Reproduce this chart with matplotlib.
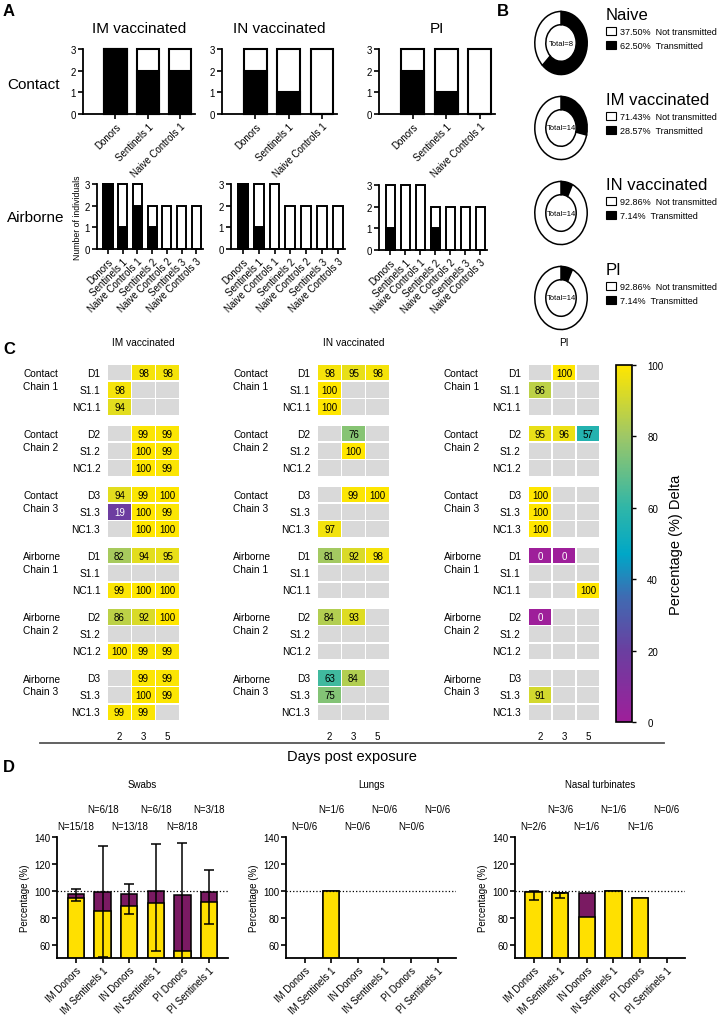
import matplotlib.pyplot as plt
import numpy as np
from matplotlib.colors import LinearSegmentedColormap
from matplotlib.lines import Line2D
from matplotlib.patches import Patch, Rectangle

plt.rcParams['font.family'] = ['Liberation Sans', 'DejaVu Sans']

W, H = 719, 1020

# ---------------- panel A data ----------------
groups_a = ["IM vaccinated", "IN vaccinated", "PI"]
contact_labels = ["Donors", "Sentinels 1", "Naive Controls 1"]
airborne_labels = ["Donors", "Sentinels 1", "Naive Controls 1", "Sentinels 2",
                   "Naive Controls 2", "Sentinels 3", "Naive Controls 3"]
contact_total = [3, 3, 3]
contact_pos = {"IM vaccinated": [3, 2, 2], "IN vaccinated": [2, 1, 0], "PI": [2, 1, 0]}
airborne_total = [3, 3, 3, 2, 2, 2, 2]
airborne_pos = {"IM vaccinated": [3, 1, 2, 1, 0, 0, 0],
                "IN vaccinated": [3, 1, 0, 0, 0, 0, 0],
                "PI": [1, 0, 0, 1, 0, 0, 0]}

# ---------------- panel B data ----------------
donut_groups = ["Naive", "IM vaccinated", "IN vaccinated", "PI"]
donut_total = [8, 14, 14, 14]
donut_transmitted = [5, 4, 1, 1]

# ---------------- panel C data ----------------
n = np.nan
days = ["2", "3", "5"]
chain_labels = ["Contact\nChain 1", "Contact\nChain 2", "Contact\nChain 3",
                "Airborne\nChain 1", "Airborne\nChain 2", "Airborne\nChain 3"]
animal_labels = [["D1", "S1.1", "NC1.1"], ["D2", "S1.2", "NC1.2"], ["D3", "S1.3", "NC1.3"]] * 2
heat_im = [[n, 98, 98], [98, n, n], [94, n, n],
           [n, 99, 99], [n, 100, 99], [n, 100, 99],
           [94, 99, 100], [19, 100, 99], [n, 100, 100],
           [82, 94, 95], [n, n, n], [99, 100, 100],
           [86, 92, 100], [n, n, n], [100, 99, 99],
           [n, 99, 99], [n, 100, 99], [99, 99, n]]
heat_in = [[98, 95, 98], [100, n, n], [100, n, n],
           [n, 76, n], [n, 100, n], [n, n, n],
           [n, 99, 100], [n, n, n], [97, n, n],
           [81, 92, 98], [n, n, n], [n, n, n],
           [84, 93, n], [n, n, n], [n, n, n],
           [63, 84, n], [75, n, n], [n, n, n]]
heat_pi = [[n, 100, n], [86, n, n], [n, n, n],
           [95, 96, 57], [n, n, n], [n, n, n],
           [100, n, n], [100, n, n], [100, n, n],
           [0, 0, n], [n, n, n], [n, n, 100],
           [0, n, n], [n, n, n], [n, n, n],
           [n, n, n], [91, n, n], [n, n, n]]
heat_titles = ["IM vaccinated", "IN vaccinated", "PI"]

# ---------------- panel D data ----------------
d_labels = ["IM Donors", "IM Sentinels 1", "IN Donors", "IN Sentinels 1", "PI Donors", "PI Sentinels 1"]
d_titles = ["Swabs", "Lungs", "Nasal turbinates"]
swab_total = [97.5, 99, 97.5, 99.5, 96.5, 99]
swab_delta = [95, 85, 88.5, 91, 55.5, 91.5]
swab_err_lo = [92.5, 51, 82.5, 55.5, 15, 75]
swab_err_hi = [101, 133.5, 105, 134.5, 135.5, 115.5]
swab_n = ["N=15/18", "N=6/18", "N=13/18", "N=6/18", "N=8/18", "N=3/18"]
lung_total = [n, 100, n, n, n, n]
lung_delta = [n, 100, n, n, n, n]
lung_err_lo = [n, n, n, n, n, n]
lung_err_hi = [n, n, n, n, n, n]
lung_n = ["N=0/6", "N=1/6", "N=0/6", "N=0/6", "N=0/6", "N=0/6"]
nt_total = [99, 98.5, 98.5, 99.5, 94.5, n]
nt_delta = [99, 98.5, 80.5, 99.5, 94.5, n]
nt_err_lo = [93, 94.5, n, n, n, n]
nt_err_hi = [99.5, 98.5, n, n, n, n]
nt_n = ["N=2/6", "N=3/6", "N=1/6", "N=1/6", "N=1/6", "N=0/6"]

fig = plt.figure(figsize=(W / 100, H / 100), dpi=100)


def px_axes(x0, y0, x1, y1):
    return fig.add_axes([x0 / W, 1 - y1 / H, (x1 - x0) / W, (y1 - y0) / H])


def fig_text(x, y, s, **kw):
    fig.text(x / W, 1 - y / H, s, **kw)


def style_axes(ax):
    for s in ["top", "right"]:
        ax.spines[s].set_visible(False)
    for s in ["left", "bottom"]:
        ax.spines[s].set_linewidth(1.3)
    ax.tick_params(width=1.2, length=3.5, labelsize=7, pad=1.5)


# ---------------- panel A ----------------
contact_rects = [(83, 50, 195, 115), (222, 50, 337, 115), (379, 50, 495, 115)]
airborne_rects = [(97, 185, 203, 250), (231, 185, 345, 250), (379, 186, 487, 251)]
for g, rc, ra in zip(groups_a, contact_rects, airborne_rects):
    ax = px_axes(*rc)
    x = np.arange(len(contact_labels))
    ax.bar(x, contact_total, width=0.68, color="white", edgecolor="black", linewidth=1.5, clip_on=False)
    ax.bar(x, contact_pos[g], width=0.68, color="black", edgecolor="black", linewidth=1.5, clip_on=False)
    ax.set_xlim(-1.0, 2.45)
    ax.set_ylim(0, 3)
    ax.set_yticks([0, 1, 2, 3])
    ax.set_xticks(x)
    ax.set_xticklabels(contact_labels, rotation=45, ha="right", rotation_mode="anchor", fontsize=6.8)
    style_axes(ax)
    ax.set_title(g, fontsize=11, pad=12)

    ax = px_axes(*ra)
    x = np.arange(len(airborne_labels))
    ax.bar(x, airborne_total, width=0.62, color="white", edgecolor="black", linewidth=1.4, clip_on=False)
    ax.bar(x, airborne_pos[g], width=0.62, color="black", edgecolor="black", linewidth=1.4, clip_on=False)
    ax.set_xlim(-0.75, 6.45)
    ax.set_ylim(0, 3)
    ax.set_yticks([0, 1, 2, 3])
    ax.set_xticks(x)
    ax.set_xticklabels(airborne_labels, rotation=45, ha="right", rotation_mode="anchor", fontsize=6.8)
    style_axes(ax)
    if g == "IM vaccinated":
        ax.set_ylabel("Number of individuals", fontsize=6.3, labelpad=2)

fig_text(7, 85, "Contact", fontsize=11, va="center")
fig_text(7, 218, "Airborne", fontsize=11, va="center")

# ---------------- panel B ----------------
for i, (g, tot, tr) in enumerate(zip(donut_groups, donut_total, donut_transmitted)):
    cy = 44 + 85 * i
    ax = px_axes(561 - 27, cy - 32.5, 561 + 27, cy + 32.5)
    ax.pie([tr, tot - tr], colors=["black", "white"], startangle=90, counterclock=False,
           wedgeprops=dict(width=0.42, edgecolor="black", linewidth=1.1))
    ax.set_aspect("auto")
    ax.set_xlim(-1.03, 1.03)
    ax.set_ylim(-1.03, 1.03)
    ax.text(0, 0, f"Total={tot}", ha="center", va="center", fontsize=5.5)
    pct_tr = 100 * tr / tot
    handles = [Patch(facecolor="white", edgecolor="black", linewidth=0.8),
               Patch(facecolor="black", edgecolor="black", linewidth=0.8)]
    labels = [f"{100 - pct_tr:.2f}%  Not transmitted", f"{pct_tr:.2f}%  Transmitted"]
    ax.legend(handles, labels, loc="upper left", bbox_to_anchor=(606 / W, 1 - (cy - 36) / H),
              bbox_transform=fig.transFigure, frameon=False, fontsize=6.5, title=g,
              title_fontsize=12, alignment="left", borderpad=0, borderaxespad=0,
              handlelength=1.1, handleheight=0.9, handletextpad=0.5, labelspacing=0.55)

# ---------------- panel C ----------------
cmap = LinearSegmentedColormap.from_list("delta", [
    (0.0, "#9e1f9a"), (0.2, "#6a3fa0"), (0.35, "#3f6bb2"), (0.47, "#00a7c7"),
    (0.6, "#2fb6a8"), (0.8, "#9dc767"), (1.0, "#ffe600")])
gpitch = 3.53
heat_x0 = [107.5, 317.5, 528]
for data, title, x0 in zip([heat_im, heat_in, heat_pi], heat_titles, heat_x0):
    ax = px_axes(x0, 364.85, x0 + 72, 722.1)
    for r, row in enumerate(data):
        g, k = divmod(r, 3)
        y = g * gpitch + k
        for c, v in enumerate(row):
            col = "#d9d9d9" if np.isnan(v) else cmap(v / 100)
            ax.add_patch(Rectangle((c - 0.46, y - 0.45), 0.92, 0.9, facecolor=col, edgecolor="none"))
            if not np.isnan(v):
                ax.text(c, y, f"{v:.0f}", ha="center", va="center", fontsize=7,
                        color="white" if v < 30 else "black")
        ax.text(-0.8, y, animal_labels[g][k], ha="right", va="center", fontsize=7.3)
        if k == 0:
            ax.text(-4.02, y + 0.4, chain_labels[g], ha="left", va="center", fontsize=7.3, linespacing=1.3)
    ax.set_xlim(-0.5, 2.5)
    ax.set_ylim(5 * gpitch + 2.5, -0.5)
    ax.set_xticks(range(3))
    ax.set_xticklabels(days, fontsize=7)
    ax.set_yticks([])
    ax.tick_params(length=0, pad=7)
    for s in ax.spines.values():
        s.set_visible(False)
    ax.text(1, -1.78, title, ha="center", va="center", fontsize=7.3)

cax = px_axes(616, 366, 632, 723)
sm = plt.cm.ScalarMappable(cmap=cmap, norm=plt.Normalize(0, 100))
cb = fig.colorbar(sm, cax=cax, ticks=[0, 20, 40, 60, 80, 100])
cb.outline.set_linewidth(1.2)
cax.tick_params(labelsize=7, length=3, width=1, pad=8)
cb.set_label("Percentage (%) Delta", fontsize=10.5, labelpad=4)

fig.add_artist(Line2D([40 / W, 664 / W], [1 - 744 / H, 1 - 744 / H], color="#555555", linewidth=1.3))
fig_text(352, 757, "Days post exposure", fontsize=10.5, ha="center", va="center")

# ---------------- panel D ----------------
d_sets = [(swab_total, swab_delta, swab_err_lo, swab_err_hi, swab_n),
          (lung_total, lung_delta, lung_err_lo, lung_err_hi, lung_n),
          (nt_total, nt_delta, nt_err_lo, nt_err_hi, nt_n)]
d_x0 = [57.4, 286, 515]
for (tot, dl, lo, hi, nl), title, x0 in zip(d_sets, d_titles, d_x0):
    ax = px_axes(x0, 838, x0 + 170.2, 959)
    x = np.arange(len(d_labels))
    ax.bar(x, tot, width=0.62, color="#7a1a62", edgecolor="black", linewidth=1.1)
    ax.bar(x, dl, width=0.62, color="#ffe000", edgecolor="black", linewidth=1.1)
    lo = np.array(lo, float)
    hi = np.array(hi, float)
    mid = (lo + hi) / 2
    ax.errorbar(x, mid, yerr=[mid - lo, hi - mid], fmt="none", ecolor="black",
                elinewidth=1.1, capsize=3.8, capthick=1.1)
    ax.axhline(100, color="black", linestyle=":", linewidth=0.9)
    ax.set_xlim(-0.7, 5.7)
    ax.set_ylim(50, 140)
    ax.set_yticks([60, 80, 100, 120, 140])
    ax.set_xticks(x)
    ax.set_xticklabels(d_labels, rotation=45, ha="right", rotation_mode="anchor", fontsize=7)
    style_axes(ax)
    ax.set_ylabel("Percentage (%)", fontsize=7, labelpad=3)
    for i, s in enumerate(nl):
        ax.text(i, 1.09 if i % 2 == 0 else 1.23, s, transform=ax.get_xaxis_transform(),
                ha="center", va="center", fontsize=7)
    ax.text(2.5, 1.44, title, transform=ax.get_xaxis_transform(), ha="center", va="center", fontsize=7)

# panel letters
for lab, (px, py) in zip("ABCD", [(3, 11), (497, 11), (3, 350), (3, 768)]):
    fig_text(px, py, lab, fontsize=12, fontweight="bold", va="center")

fig.savefig("out.png", dpi=100)
